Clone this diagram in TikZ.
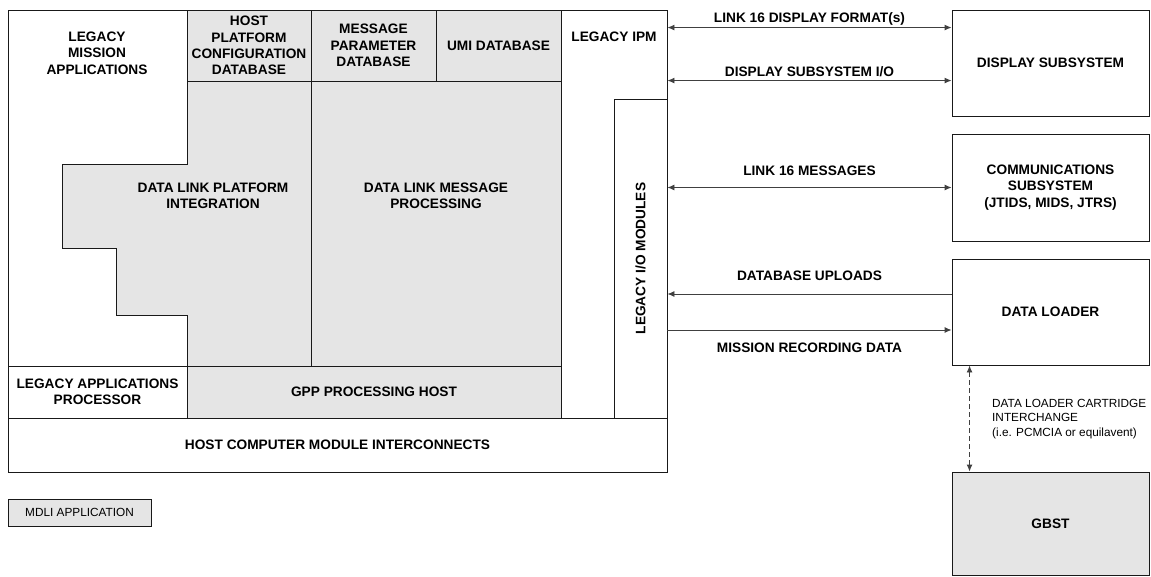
\documentclass[tikz,border=0pt]{standalone}
\usepackage{fontspec}
\setmainfont{Liberation Sans}
\usetikzlibrary{positioning,
        arrows.meta}

\begin{document}
\begin{tikzpicture}[x=1pt,y=-1pt,>={Latex[length=7pt,width=6pt]},
            box/.style={rectangle,draw=black!90,line width=0.9pt,inner sep=0pt,align=center,font=\fontsize{13.7}{16.3}\selectfont\bfseries},
            shaded/.style={fill=black!10},
            lbl/.style={align=center,font=\fontsize{13.7}{16.3}\selectfont\bfseries},
            note/.style={align=left,inner sep=0pt,font=\fontsize{11.8}{14.5}\selectfont},
            link/.style={draw=black!75,line width=0.9pt}]
            \useasboundingbox (0,0) rectangle (1151,576);

            % host computer
            \node [box,minimum width=659pt,minimum height=462pt] (host) at (337.5,241) {};
            \node [lbl] (lma) at (97,53) {LEGACY\\MISSION\\APPLICATIONS};
            \node [box,shaded,minimum width=124pt,minimum height=71pt] (hpcdb) at (249,45.5) {HOST\\PLATFORM\\CONFIGURATION\\DATABASE};
            \node [box,shaded,minimum width=125pt,minimum height=71pt] (mpdb) at (373.5,45.5) {MESSAGE\\PARAMETER\\DATABASE};
            \node [box,shaded,minimum width=125pt,minimum height=71pt] (umidb) at (498.5,45.5) {UMI DATABASE};
            \node [box,shaded,minimum width=250pt,minimum height=285pt] (dlmp) at (436,223.5) {};
            \node [lbl] (dlmptext) at (436,196) {DATA LINK MESSAGE\\PROCESSING};
            \draw [draw=black!90,line width=0.9pt,fill=black!10] (187,81) -- (311,81) -- (311,366) -- (187,366) -- (187,315) -- (116,315)
                -- (116,248) -- (62,248) -- (62,164) -- (187,164) -- cycle;
            \node [lbl] (dlpi) at (213,196) {DATA LINK PLATFORM\\INTEGRATION};
            \node [box,shaded,minimum width=374pt,minimum height=52pt] (gpp) at (374,392) {GPP PROCESSING HOST};
            \node [box,minimum width=179pt,minimum height=52pt] (lap) at (97.5,392) {LEGACY APPLICATIONS\\PROCESSOR};
            \node [box,minimum width=659pt,minimum height=54pt] (hcmi) at (337.5,445) {HOST COMPUTER MODULE INTERCONNECTS};
            \node [lbl] (ipm) at (614,37) {LEGACY IPM};
            \node [box,minimum width=53pt,minimum height=319pt] (io) at (640.5,258.5) {};
            \node [lbl,rotate=90] (iotext) at (io.center) {LEGACY I/O MODULES};

            % outside subsystems
            \node [box,minimum width=197pt,minimum height=106pt] (disp) at (1050.5,63) {DISPLAY SUBSYSTEM};
            \node [box,minimum width=197pt,minimum height=107pt] (comms) at (1050.5,187.5) {COMMUNICATIONS\\SUBSYSTEM\\(JTIDS, MIDS, JTRS)};
            \node [box,minimum width=197pt,minimum height=106pt] (loader) at (1050.5,312) {DATA LOADER};
            \node [box,shaded,minimum width=197pt,minimum height=103pt] (gbst) at (1050.5,523.5) {GBST};

            % legend
            \node [box,shaded,minimum width=143pt,minimum height=27pt,font=\fontsize{11.8}{14.5}\selectfont] (legend) at (79.5,512.5) {MDLI APPLICATION};

            \coordinate (fmt) at ([yshift=-18pt]disp.north west);
            \coordinate (dio) at ([yshift=-71pt]disp.north west);
            \coordinate (upl) at ([yshift=18pt]loader.west);
            \coordinate (rec) at ([yshift=-18pt]loader.west);
            \draw [link,<->] (fmt -| host.east) -- (fmt) node [lbl,midway,yshift=9pt] (fmtlbl) {LINK 16 DISPLAY FORMAT(s)};
            \draw [link,<->] (dio -| host.east) -- (dio) node [lbl,midway,yshift=9pt] (diolbl) {DISPLAY SUBSYSTEM I/O};
            \draw [link,<->] (io.east |- comms.west) -- (comms.west) node [lbl,midway,yshift=17pt] (msglbl) {LINK 16 MESSAGES};
            \draw [link,->] (upl) -- (upl -| io.east) node [lbl,midway,yshift=18pt] (upllbl) {DATABASE UPLOADS};
            \draw [link,->] (rec -| io.east) -- (rec) node [lbl,midway,yshift=-18pt] (reclbl) {MISSION RECORDING DATA};
            \draw [link,<->,dash pattern=on 5pt off 3pt] ([xshift=18pt]loader.south west) -- ([xshift=18pt]gbst.north west);
            \node [note,anchor=west] (cartlbl) at (992,419) {DATA LOADER CARTRIDGE\\INTERCHANGE\\(i.e. PCMCIA or equilavent)};
        \end{tikzpicture}
\end{document}
